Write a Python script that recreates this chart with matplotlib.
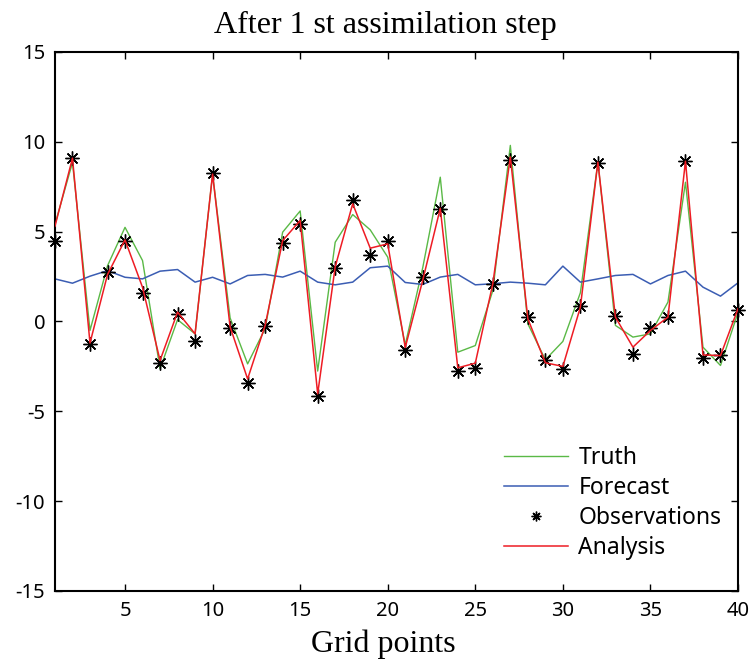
import matplotlib
matplotlib.use("Agg")
import matplotlib.pyplot as plt
import numpy as np

plt.rcParams["axes.unicode_minus"] = False

grid = np.arange(1, 41)

truth = [5.4, 8.85, -0.5, 3.1, 5.24, 3.39, -2.63, 0.1, -0.69, 8.2,
         0.2, -2.36, -0.4, 4.97, 6.15, -2.76, 4.41, 5.95, 5.1, 3.58,
         -1.3, 3.0, 8.03, -1.71, -1.34, 1.72, 9.8, -0.13, -2.13, -1.11,
         1.6, 8.87, -0.22, -0.87, -0.69, 1.08, 7.75, -1.43, -2.45, 0.5]

forecast = [2.37, 2.13, 2.52, 2.83, 2.46, 2.37, 2.8, 2.89, 2.19, 2.46,
            2.09, 2.56, 2.62, 2.47, 2.8, 2.19, 2.04, 2.19, 2.99, 3.08,
            2.17, 2.06, 2.47, 2.62, 2.04, 2.1, 2.19, 2.13, 2.04, 3.08,
            2.19, 2.37, 2.56, 2.62, 2.09, 2.56, 2.8, 1.91, 1.41, 2.15]

observations = [4.47, 9.1, -1.28, 2.78, 4.46, 1.56, -2.3, 0.43, -1.06, 8.24,
                -0.37, -3.43, -0.27, 4.36, 5.43, -4.17, 2.97, 6.77, 3.71, 4.5,
                -1.61, 2.47, 6.27, -2.76, -2.58, 2.06, 9.0, 0.24, -2.13, -2.63,
                0.87, 8.81, 0.33, -1.8, -0.35, 0.24, 8.92, -2.02, -1.86, 0.65]

analysis = [5.3, 9.09, -1.2, 2.61, 4.54, 1.9, -2.17, 0.52, -0.69, 8.2,
            -0.3, -3.2, -0.22, 4.5, 5.62, -4.03, 3.04, 6.55, 4.08, 4.32,
            -1.45, 2.3, 6.3, -2.58, -2.32, 2.1, 9.16, 0.15, -2.3, -2.5,
            0.8, 8.87, 0.24, -1.43, -0.5, 0.24, 8.92, -1.86, -1.9, 0.71]

xticks = [5, 10, 15, 20, 25, 30, 35, 40]
yticks = [-15, -10, -5, 0, 5, 10, 15]

sans = "Noto Sans"
serif = "Liberation Serif"

fig = plt.figure(figsize=(7.55, 6.62), dpi=100)
ax = fig.add_axes([0.0728, 0.1073, 0.9047, 0.8142])

ax.plot(grid, truth, color="#5ab946", lw=1.0, label="Truth")
ax.plot(grid, forecast, color="#3b5db3", lw=1.1, label="Forecast")
ax.plot(grid, observations, linestyle="none", marker=(8, 2, 0), markersize=10,
        markeredgewidth=1.0, color="black", clip_on=False, zorder=3,
        label="Observations")
ax.plot(grid, analysis, color="#ee1c24", lw=1.1, zorder=4, label="Analysis")

ax.set_xlim(1, 40)
ax.set_ylim(-15, 15)
ax.set_xticks(xticks)
ax.set_yticks(yticks)
ax.tick_params(direction="in", length=5, width=1, top=True, right=True,
               labelsize=14.5, pad=7)
for lab in ax.get_xticklabels() + ax.get_yticklabels():
    lab.set_fontfamily(sans)
for sp in ax.spines.values():
    sp.set_linewidth(1.5)

ax.set_title("After 1 st assimilation step", fontfamily=serif, fontsize=23,
             pad=14, x=0.483)
ax.set_xlabel("Grid points", fontfamily=serif, fontsize=23, labelpad=6, x=0.48)

leg = ax.legend(loc="lower left", bbox_to_anchor=(0.644, 0.040), frameon=False,
                prop={"family": sans, "size": 16.5}, handlelength=2.8,
                handletextpad=0.44, labelspacing=0.26, markerscale=0.7,
                borderaxespad=0)

fig.savefig("out.png", dpi=100)
